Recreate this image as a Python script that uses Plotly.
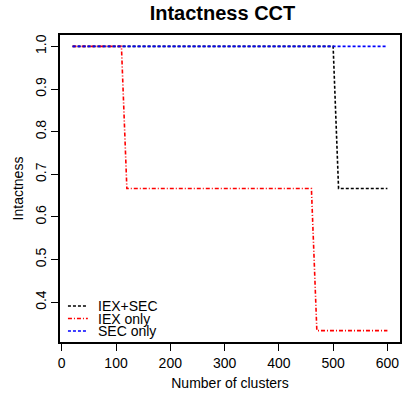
import plotly.graph_objects as go

clusters = list(range(20, 601, 10))
iex_sec = [1.0 if c <= 500 else 2/3 for c in clusters]
iex_only = [1.0 if c <= 110 else (2/3 if c <= 460 else 1/3) for c in clusters]
sec_only = [1.0 for c in clusters]

series_names = ["IEX+SEC", "IEX only", "SEC only"]
series_vals = [iex_sec, iex_only, sec_only]
colors = ["black", "red", "blue"]
dashes = ["3px,2px", "4px,2px,1px,2px", "3px,2px"]

font = "Liberation Sans, Arial, sans-serif"
L, R, T, B = 60, 7, 35, 54
W, H = 409, 396
pw, ph = W - L - R, H - T - B

fig = go.Figure()
for name, vals, col, d in zip(series_names, series_vals, colors, dashes):
    fig.add_trace(go.Scatter(x=clusters, y=vals, mode="lines", name=name, showlegend=False,
                             line=dict(color=col, width=1.6, dash=d)))

# manual legend (R-style, compact, no box)
row_px = [306, 318.5, 331]
for name, col, d, py in zip(series_names, colors, dashes, row_px):
    yp = (H - B - py) / ph
    fig.add_shape(type="line", xref="paper", yref="paper",
                  x0=(68 - L) / pw, x1=(88 - L) / pw, y0=yp, y1=yp,
                  line=dict(color=col, width=1.6, dash=d))
    fig.add_annotation(text=name, xref="paper", yref="paper", x=(96 - L) / pw, y=yp,
                       xanchor="left", yanchor="middle", showarrow=False,
                       font=dict(size=14, family=font, color="black"))

fig.update_layout(
    width=W, height=H,
    margin=dict(l=L, r=R, t=T, b=B),
    paper_bgcolor="white", plot_bgcolor="white",
    font=dict(family=font, size=14, color="black"),
    title=dict(text="<b>Intactness CCT</b>", x=0.544, xanchor="center", y=1 - 6 / H, yanchor="top",
               font=dict(size=20, family=font)),
    showlegend=False,
)
fig.update_xaxes(range=[-3.2, 623.2], tickvals=[0, 100, 200, 300, 400, 500, 600],
                 ticks="outside", ticklen=7, tickcolor="black", tickwidth=1.2, showgrid=False, zeroline=False,
                 showline=True, linecolor="black", linewidth=1.5, mirror=True,
                 title=dict(text="Number of clusters", standoff=9, font=dict(size=14)),
                 tickfont=dict(size=14))
fig.update_yaxes(range=[0.3067, 1.0267], tickvals=[0.4, 0.5, 0.6, 0.7, 0.8, 0.9, 1.0],
                 ticktext=["0.4", "0.5", "0.6", "0.7", "0.8", "0.9", "1.0"],
                 tickangle=-90, ticks="outside", ticklen=7, tickcolor="black", tickwidth=1.2, showgrid=False, zeroline=False,
                 showline=True, linecolor="black", linewidth=1.5, mirror=True,
                 title=dict(text="Intactness", standoff=6, font=dict(size=14)),
                 tickfont=dict(size=14))
fig.write_html("out.html")
